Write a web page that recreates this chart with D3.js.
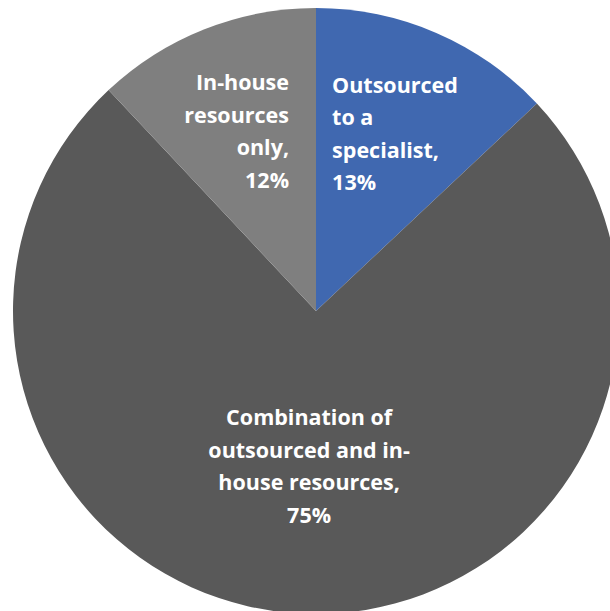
<!DOCTYPE html>
<html>
<head>
<meta charset="utf-8">
<script src="https://cdn.jsdelivr.net/npm/d3@7"></script>
<style>
  body { margin: 0; background: #fff; }
  .lbl { font-family: "Open Sans", "Noto Sans", sans-serif; font-weight: 700; fill: #fff; }
</style>
</head>
<body>
<div id="pie-chart"></div>
<script>
// data
const categories = ["Outsourced to a specialist", "Combination of outsourced and in-house resources", "In-house resources only"];
const values = [13, 75, 12];
const labelLines = [
  ["Outsourced", "to a", "specialist,", "13%"],
  ["Combination of", "outsourced and in-", "house resources,", "75%"],
  ["In-house", "resources", "only,", "12%"]
];
const colors = ["#4068b0", "#595959", "#7f7f7f"];

function drawPie () {
  const svgWidth = 610;
  const svgHeight = 611;
  const cx = 316, cy = 311;
  const radius = 303;
  const lineGap = 32.5;

  const svg = d3.select("#pie-chart")
    .append("svg")
    .attr("width", svgWidth)
    .attr("height", svgHeight);

  const pie = d3.pie()
    .sort(null)
    .value(d => d);

  const arc = d3.arc()
    .innerRadius(0)
    .outerRadius(radius);

  const g = svg.append("g")
    .attr("transform", `translate(${cx}, ${cy})`);

  const slices = pie(values);

  g.selectAll(".slice")
    .data(slices)
    .enter()
    .append("path")
    .attr("class", "slice")
    .attr("d", arc)
    .attr("fill", (d, i) => colors[i]);

  // label anchor: small slices further out, big one nearer center
  const labelRadius = d => (d.data > 50 ? 0.51 : 0.64) * radius;
  // text alignment inside each label block (like the original)
  const align = ["start", "middle", "end"];
  // small sideways nudge so blocks sit where the original put them
  const nudgeX = [2, -2, -8];

  slices.forEach((d, i) => {
    const mid = (d.startAngle + d.endAngle) / 2;
    const r = labelRadius(d);
    const px = Math.sin(mid) * r + nudgeX[i];
    const py = -Math.cos(mid) * r;

    const t = g.append("text")
      .attr("class", "lbl")
      .attr("font-size", 21.5)
      .attr("text-anchor", align[i]);

    labelLines[i].forEach((line, j) => {
      t.append("tspan")
        .attr("x", 0)
        .attr("y", j * lineGap)
        .text(line);
    });

    // center the text block on the anchor point
    const bb = t.node().getBBox();
    const dx = px - (bb.x + bb.width / 2);
    const dy = py - (bb.y + bb.height / 2);
    t.attr("transform", `translate(${dx}, ${dy})`);
  });
}

drawPie();
</script>
</body>
</html>
